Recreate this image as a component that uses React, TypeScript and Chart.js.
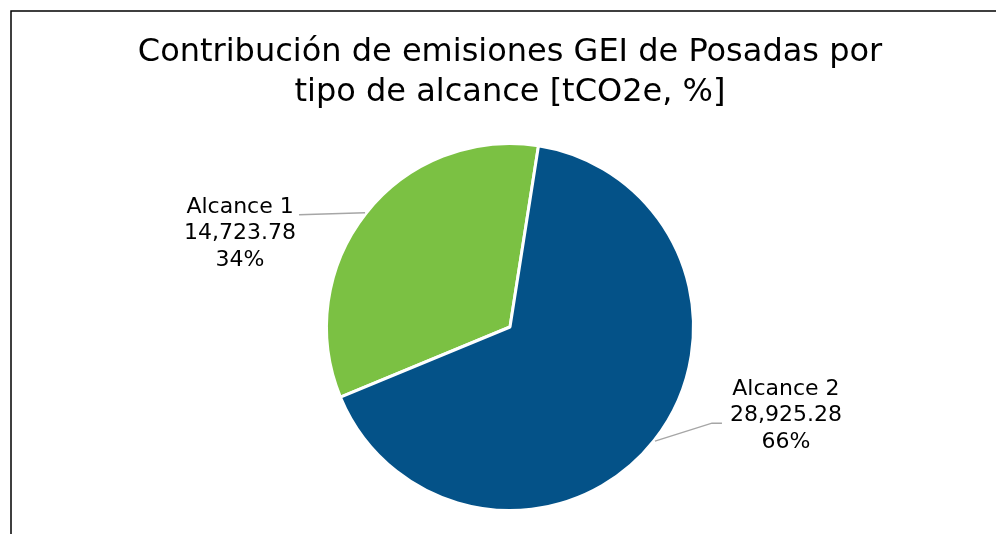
import React, { useEffect, useRef } from "react";
import { Chart, registerables } from "chart.js";

Chart.register(...registerables);

const titleLines = ["Contribución de emisiones GEI de Posadas por", "tipo de alcance [tCO2e, %]"];
const categories = ["Alcance 1", "Alcance 2"];
const values = [14723.78, 28925.28];
const colors = ["#7BC143", "#045288"];

const FONT = "'DejaVu Sans', sans-serif";

const framePlugin = {
  id: "frame",
  beforeDraw(chart: any) {
    const ctx = chart.ctx;
    ctx.save();
    ctx.fillStyle = "#ffffff";
    ctx.fillRect(0, 0, chart.width, chart.height);
    ctx.strokeStyle = "#000000";
    ctx.lineWidth = 1.5;
    ctx.strokeRect(11, 11, chart.width + 20, chart.height + 20);
    ctx.restore();
  },
};

const titlePlugin = {
  id: "customTitle",
  afterDraw(chart: any) {
    const ctx = chart.ctx;
    ctx.save();
    ctx.fillStyle = "#000000";
    ctx.font = `32px ${FONT}`;
    ctx.textAlign = "center";
    ctx.textBaseline = "middle";
    titleLines.forEach((t, i) => ctx.fillText(t, 510, 53 + i * 40));
    ctx.restore();
  },
};

const labelPlugin = {
  id: "pieLabels",
  afterDatasetsDraw(chart: any) {
    const ctx = chart.ctx;
    const meta = chart.getDatasetMeta(0);
    const data = chart.data.datasets[0].data as number[];
    const total = data.reduce((a, b) => a + b, 0);
    ctx.save();
    meta.data.forEach((arc: any, i: number) => {
      const { x, y, startAngle, endAngle, outerRadius } = arc.getProps(
        ["x", "y", "startAngle", "endAngle", "outerRadius"],
        true
      );
      const mid = (startAngle + endAngle) / 2;
      const ax = x + Math.cos(mid) * (outerRadius + 1);
      const ay = y + Math.sin(mid) * (outerRadius + 1);
      const lines = [
        chart.data.labels[i],
        data[i].toLocaleString("en-US", { minimumFractionDigits: 2, maximumFractionDigits: 2 }),
        Math.round((data[i] / total) * 100) + "%",
      ];
      ctx.strokeStyle = "#a6a6a6";
      ctx.lineWidth = 1.5;
      ctx.beginPath();
      let cx: number, cy: number;
      if (ax < x) {
        ctx.moveTo(ax, ay);
        ctx.lineTo(ax - 66, ay + 2);
        cx = ax - 125;
        cy = ay - 6;
      } else {
        ctx.moveTo(ax, ay);
        ctx.lineTo(ax + 57, ay - 18);
        ctx.lineTo(ax + 67, ay - 18);
        cx = ax + 131;
        cy = ay - 52;
      }
      ctx.stroke();
      ctx.fillStyle = "#000000";
      ctx.font = `22px ${FONT}`;
      ctx.textAlign = "center";
      ctx.textBaseline = "middle";
      lines.forEach((t, k) => ctx.fillText(String(t), cx, cy + k * 26.5));
    });
    ctx.restore();
  },
};

export default function App() {
  const ref = useRef<HTMLCanvasElement>(null);
  useEffect(() => {
    if (!ref.current) return;
    const chart = new Chart(ref.current, {
      type: "pie",
      data: {
        labels: categories,
        datasets: [
          {
            data: values,
            backgroundColor: colors,
            borderColor: "#ffffff",
            borderWidth: 3,
            hoverOffset: 0,
          },
        ],
      },
      options: {
        responsive: false,
        animation: false,
        rotation: 247.5,
        layout: { padding: { top: 142, bottom: 22, left: 24, right: 0 } },
        plugins: {
          legend: { display: false },
          title: { display: false },
          tooltip: { enabled: false },
        },
      },
      plugins: [framePlugin, titlePlugin, labelPlugin],
    });
    return () => chart.destroy();
  }, []);
  return (
    <div style={{ position: "fixed", left: 0, top: 0, width: 996, height: 534, background: "#fff" }}>
      <canvas ref={ref} width={996} height={534} style={{ display: "block" }} />
    </div>
  );
}
